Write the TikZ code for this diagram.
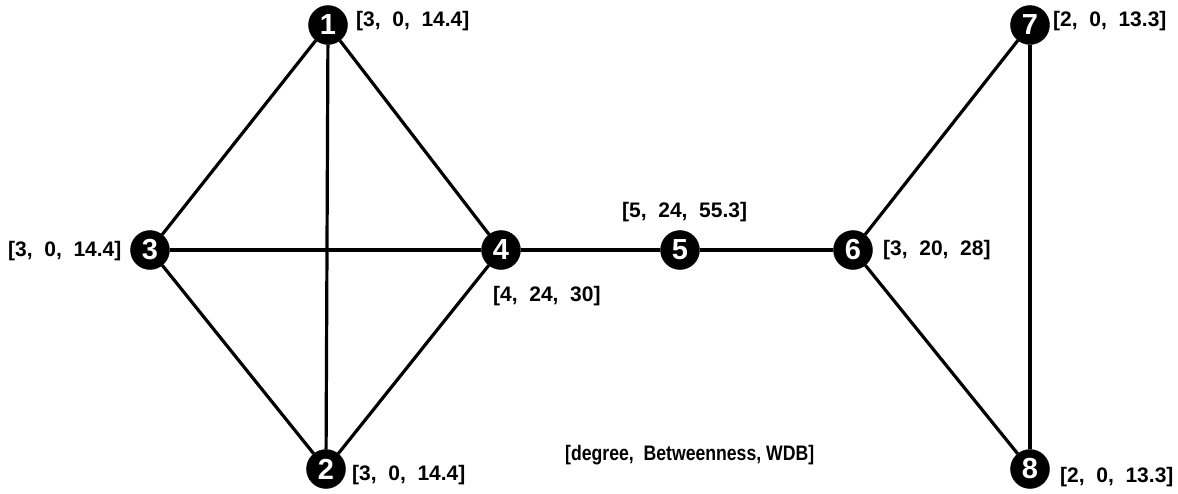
\documentclass[tikz,border=0pt]{standalone}
\usepackage{fontspec}
\setmainfont{Liberation Sans}
\begin{document}
\begin{tikzpicture}[x=1pt,y=-1pt,
  vtx/.style={circle,fill=black,draw=black,minimum size=39pt,inner sep=0pt,text=white,font=\fontsize{29}{29}\selectfont\bfseries},
  lab/.style={font=\fontsize{21}{24}\selectfont\bfseries,inner sep=0pt},
  edge/.style={line width=3.2pt,black}]
\useasboundingbox (0,0) rectangle (1178,493);
\node[vtx] (n1) at (328,25) {1};
\node[vtx] (n2) at (326,469) {2};
\node[vtx] (n3) at (150,250) {3};
\node[vtx] (n4) at (501,250) {4};
\node[vtx] (n5) at (680,250) {5};
\node[vtx] (n6) at (853,250) {6};
\node[vtx] (n7) at (1030,25) {7};
\node[vtx] (n8) at (1030,469) {8};
\draw[edge] (n1) -- (n3);
\draw[edge] (n1) -- (n4);
\draw[edge] (n1) -- (n2);
\draw[edge] (n3) -- (n4);
\draw[edge] (n3) -- (n2);
\draw[edge] (n4) -- (n2);
\draw[edge] (n4) -- (n5);
\draw[edge] (n5) -- (n6);
\draw[edge] (n6) -- (n7);
\draw[edge] (n6) -- (n8);
\draw[edge] (n7) -- (n8);
\node[lab,anchor=west] (l1) at (356,21) {[3,\ \ 0,\ \ 14.4]};
\node[lab,anchor=west] (l2) at (352,475) {[3,\ \ 0,\ \ 14.4]};
\node[lab,anchor=west] (l3) at (8,251) {[3,\ \ 0,\ \ 14.4]};
\node[lab,anchor=west] (l4) at (493,296) {[4,\ \ 24,\ \ 30]};
\node[lab,anchor=west] (l5) at (622,212) {[5,\ \ 24,\ \ 55.3]};
\node[lab,anchor=west] (l6) at (883,250) {[3,\ \ 20,\ \ 28]};
\node[lab,anchor=west] (l7) at (1053,21) {[2,\ \ 0,\ \ 13.3]};
\node[lab,anchor=west] (l8) at (1060,477) {[2,\ \ 0,\ \ 13.3]};
\node[lab,anchor=west] (leg) at (565,455) {\scalebox{0.84}[1]{[degree,\ \ Betweenness, WDB]}};
\end{tikzpicture}
\end{document}
